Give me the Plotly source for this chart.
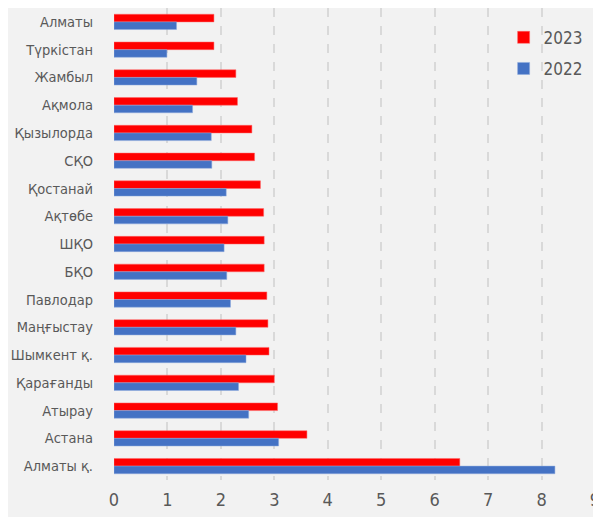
import plotly.graph_objects as go

categories = ["Алматы", "Түркістан", "Жамбыл", "Ақмола", "Қызылорда", "СҚО", "Қостанай",
              "Ақтөбе", "ШҚО", "БҚО", "Павлодар", "Маңғыстау", "Шымкент қ.", "Қарағанды",
              "Атырау", "Астана", "Алматы қ."]
values_2023 = [1.87, 1.87, 2.28, 2.31, 2.58, 2.63, 2.74, 2.80, 2.81, 2.81, 2.86, 2.88, 2.90, 3.00, 3.06, 3.61, 6.47]
values_2022 = [1.17, 0.99, 1.55, 1.47, 1.82, 1.83, 2.10, 2.13, 2.06, 2.11, 2.18, 2.28, 2.47, 2.33, 2.52, 3.08, 8.25]
x_ticks = [0, 1, 2, 3, 4, 5, 6, 7, 8, 9]

FONT = "Liberation Sans Narrow, DejaVu Sans Condensed, Roboto, sans-serif"

fig = go.Figure()
fig.add_trace(go.Bar(y=categories, x=values_2023, orientation="h", name="2023", legendgroup="a",
                     marker=dict(color="#ff0000", line=dict(color="#ff6666", width=0.5))))
fig.add_trace(go.Bar(y=categories, x=values_2022, orientation="h", name="2022", legendgroup="b",
                     marker=dict(color="#4472c4", line=dict(color="#8faadc", width=0.5))))

# the page body has an 8px margin, so the figure is drawn 8px in from the top-left
fig.update_layout(
    width=593, height=509,
    barmode="group", bargap=0.45, bargroupgap=0,
    paper_bgcolor="#f2f2f2", plot_bgcolor="#f2f2f2",
    margin=dict(l=106, r=6, t=0, b=37, autoexpand=False),
    font=dict(family=FONT, size=16, color="#595959"),
    showlegend=True,
    legend=dict(x=0.81, y=0.975, xanchor="left", yanchor="top", bgcolor="rgba(0,0,0,0)",
                font=dict(size=17, color="#595959"), itemwidth=30,
                traceorder="grouped", tracegroupgap=6),
    xaxis=dict(range=[0, 9], tickvals=x_ticks, showgrid=True, gridcolor="#d9d9d9",
               griddash="dash", gridwidth=2, zeroline=False, showline=False,
               ticks="", ticklabelstandoff=7, tickfont=dict(size=18), automargin=False),
    yaxis=dict(autorange="reversed", showgrid=False, zeroline=False, showline=False,
               ticks="", ticklabelstandoff=20, tickfont=dict(size=14.5), automargin=False),
)

fig.write_html("out.html")
